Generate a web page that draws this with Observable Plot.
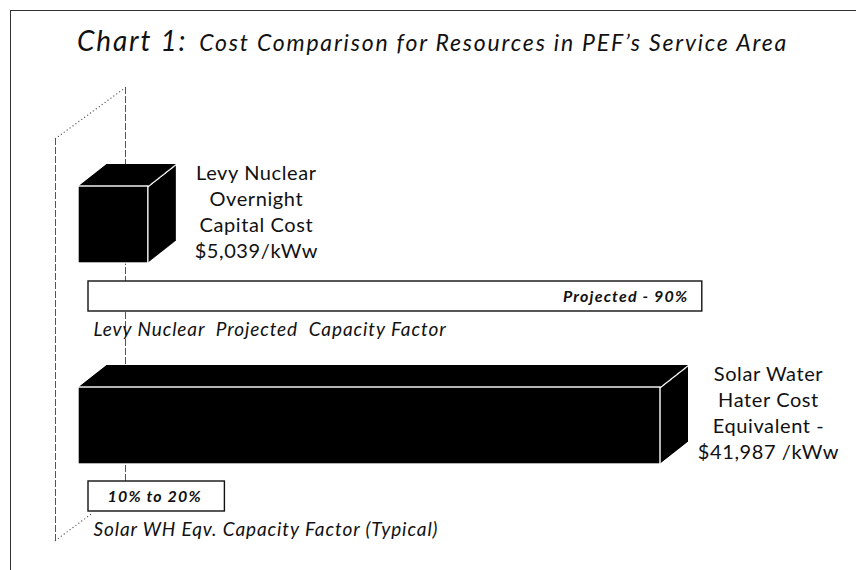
<!DOCTYPE html>
<html>
<head>
<meta charset="utf-8">
<script src="https://cdn.jsdelivr.net/npm/d3@7"></script>
<script src="https://cdn.jsdelivr.net/npm/@observablehq/plot@0.6"></script>
<style>
  html, body { margin: 0; padding: 0; background: #fff; }
  #wrap { position: relative; width: 856px; height: 570px; overflow: hidden; font-family: Lato, "Open Sans", sans-serif; color: #111; }
  #frame { position: absolute; left: 10px; top: 10px; width: 860px; height: 570px; border-top: 1.5px solid #333; border-left: 1.5px solid #333; }
  #title { position: absolute; left: 77px; top: 23px; white-space: nowrap; font-style: italic; color: #111; }
  #title .big { font-size: 28px; letter-spacing: 1.8px; }
  #title .small { font-size: 23px; letter-spacing: 1.8px; margin-left: 12px; }
  .layer { position: absolute; left: 0; top: 0; }
</style>
</head>
<body>
<div id="wrap">
  <div id="frame"></div>
  <div id="title"><span class="big">Chart 1:</span><span class="small">Cost Comparison for Resources in PEF’s Service Area</span></div>
  <div id="p1" class="layer"></div>
  <div id="p2" class="layer"></div>
</div>
<script>
// ---- data ----
const categories = ["Levy Nuclear", "Solar Water Heater"];
const costValues = [5039, 41987]; // $/kWw
const costLabels = [
  "Levy Nuclear\nOvernight\nCapital Cost\n$5,039/kWw",
  "Solar Water\nHater Cost\nEquivalent -\n$41,987 /kWw"
];
const capLow = [90, 10];   // capacity factor, %
const capHigh = [90, 20];  // capacity factor, %
const capBoxLabels = ["Projected - 90%", "10% to 20%"];
const capCaptions = ["Levy Nuclear  Projected  Capacity Factor", "Solar WH Eqv. Capacity Factor (Typical)"];

const costData = categories.map((name, i) => ({name, value: costValues[i], label: costLabels[i]}));
const capData = categories.map((name, i) => ({name, low: capLow[i], high: capHigh[i], box: capBoxLabels[i], caption: capCaptions[i]}));

// ---- layer 1: 3D cost bars ----
const DX = 28, DY = 22, BW = 77;
const wall = "#555";
const m1 = [];
// back wall and front edge of the pseudo-3D floor
m1.push(Plot.ruleX([0], {dx: 47, insetBottom: 52, stroke: wall, strokeWidth: 1, strokeDasharray: "7,2"}));
m1.push(Plot.ruleX([0], {dx: -23, insetTop: 51, stroke: wall, strokeWidth: 1, strokeDasharray: "7,2"}));
for (let k = 0; k <= 24; k++) {
  const t = k / 24;
  m1.push(Plot.dot([0], {x: d => d, frameAnchor: "top", dx: 47 - 70 * t, dy: 51 * t, r: 0.65, fill: wall}));
}
for (let k = 0; k <= 12; k++) {
  const t = k / 24;
  m1.push(Plot.dot([0], {x: d => d, frameAnchor: "bottom", dx: -23 + 70 * t, dy: -52 * t, r: 0.65, fill: wall}));
}
// extrusion (depth) of bars
for (let i = DX; i >= 1; i--) {
  m1.push(Plot.barX(costData, {x: "value", y: "name", fill: "#000", dx: i, dy: -i * DY / DX}));
}
// front face
m1.push(Plot.barX(costData, {x: "value", y: "name", fill: "#000", stroke: "#fff", strokeWidth: 1.4}));
// white edge between top and side faces
for (let i = 0; i <= DX; i++) {
  m1.push(Plot.dot(costData, {x: "value", y: "name", dx: i, dy: -BW / 2 - i * DY / DX, r: 0.8, fill: "#fff"}));
}
// value labels
m1.push(Plot.text(costData, {
  x: "value", y: "name", text: "label", dx: 108, dy: -14,
  lineHeight: 1.3, fontSize: 20, fontFamily: "Lato", fill: "#111"
}));

const plot1 = Plot.plot({
  width: 856, height: 570,
  marginTop: 87, marginBottom: 30, marginLeft: 0, marginRight: 0,
  x: {domain: [0, d3.max(costValues)], range: [78, 660], axis: null},
  y: {type: "band", domain: categories, range: [186, 464], paddingInner: 0.617, paddingOuter: 0, axis: null},
  style: {background: "transparent", overflow: "visible", fontFamily: "Lato"},
  marks: m1
});
d3.select(plot1).selectAll('g[font-size="20"]').attr("letter-spacing", "0.6px");
document.getElementById("p1").appendChild(plot1);

// ---- layer 2: capacity factor boxes ----
const plot2 = Plot.plot({
  width: 856, height: 570,
  marginTop: 0, marginBottom: 0, marginLeft: 0, marginRight: 0,
  x: {domain: [0, 100], range: [88, 770], axis: null},
  y: {type: "band", domain: categories, range: [281, 511], paddingInner: 0.85, paddingOuter: 0, axis: null},
  style: {background: "transparent", overflow: "visible", fontFamily: "Lato"},
  marks: [
    Plot.barX(capData, {x: "high", y: "name", fill: "#fff", stroke: "#111", strokeWidth: 1.4}),
    Plot.text(capData.filter(d => d.low === d.high), {
      x: "high", y: "name", text: "box", textAnchor: "end", dx: -14,
      fontSize: 16, fontWeight: "bold", fontStyle: "italic", fontFamily: "Lato", fill: "#111"
    }),
    Plot.text(capData.filter(d => d.low !== d.high), {
      x: d => d.high / 2, y: "name", text: "box", dx: -2,
      fontSize: 16, fontWeight: "bold", fontStyle: "italic", fontFamily: "Lato", fill: "#111"
    }),
    Plot.text(capData, {
      x: d => 0, y: "name", text: "caption", textAnchor: "start", dx: 5, dy: 33,
      fontSize: 19, fontStyle: "italic", fontFamily: "Lato", fill: "#111"
    })
  ]
});
d3.select(plot2).selectAll('g[font-size="16"]').attr("letter-spacing", "1.2px");
d3.select(plot2).selectAll('g[font-size="19"]').attr("letter-spacing", "0.9px");
document.getElementById("p2").appendChild(plot2);
</script>
</body>
</html>
